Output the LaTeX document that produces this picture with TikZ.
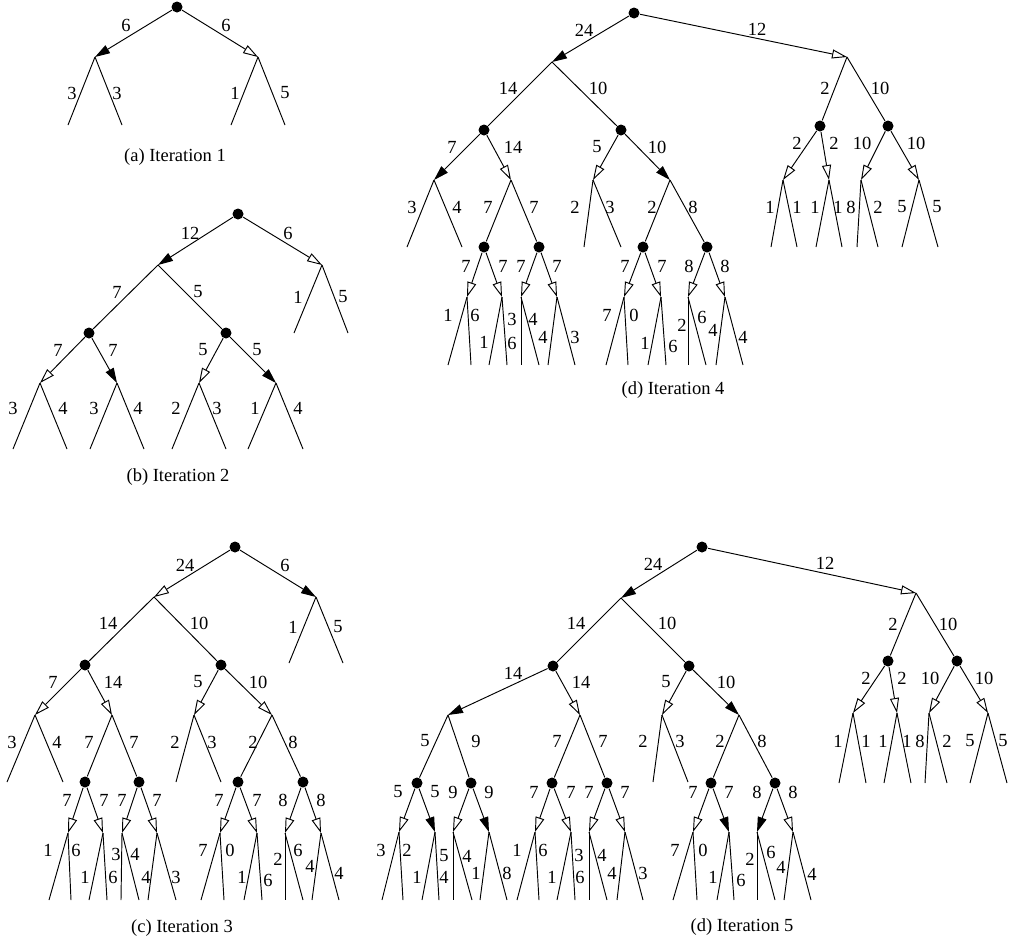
\documentclass[tikz,border=0pt]{standalone}
\usepackage{fontspec}
\setmainfont{Liberation Serif}
\usetikzlibrary{arrows.meta}
\tikzset{
  dot/.style={circle, fill=black, inner sep=0pt, minimum size=11pt},
  fa/.style={-{Triangle[length=15pt,width=9pt]}},
  oa/.style={-{Triangle[open,length=15pt,width=9pt]}},
  pl/.style={},
  lbl/.style={font=\fontsize{18.5}{20}\selectfont, inner sep=0pt},
  captext/.style={font=\fontsize{18.5}{20}\selectfont, inner sep=0pt},
}
\newcommand{\kids}[1]{\foreach \p/\c/\x/\y/\s in {#1} {\coordinate (\c) at (\x,\y); \draw[\s] (\p) -- (\c);}}
\newcommand{\dotkids}[1]{\foreach \p/\c/\x/\y/\s in {#1} {\node[dot] (\c) at (\x,\y) {}; \draw[\s] (\p) -- (\c);}}
\newcommand{\leaves}[1]{\foreach \p/\xa/\xb/\yy in {#1} {\coordinate (\p-L) at (\xa,\yy); \coordinate (\p-R) at (\xb,\yy); \draw (\p) -- (\p-L); \draw (\p) -- (\p-R);}}
\newcommand{\labels}[2]{\foreach \t/\x/\y [count=\i] in {#2} {\node[lbl] (#1\i) at (\x,\y) {\t};}}
\begin{document}
\begin{tikzpicture}[x=1pt, y=-1pt, line width=0.95pt]
\path[use as bounding box] (0,0) rectangle (1009,943);

% ---------- (a) Iteration 1
\node[dot] (a0) at (177,7) {};
\kids{a0/a1/95/57/fa, a0/a2/258/57/oa}
\leaves{a1/68/122/125, a2/231/285/125}
\labels{la}{6/126/25, 6/226/25, 3/72/93, 3/117/93, 1/235/93, 5/285/93}
\node[captext] (capA) at (175,157) {(a) Iteration 1};

% ---------- (b) Iteration 2
\node[dot] (b0) at (238,214) {};
\kids{b0/b1/158/265/fa, b0/b2/322/265/oa}
\dotkids{b1/b11/89/333/pl, b1/b12/226/333/pl}
\kids{b11/b111/40/383/oa, b11/b112/117/383/fa, b12/b121/199/383/oa, b12/b122/276/383/fa}
\leaves{b2/294/348/333, b111/13/67/449, b112/90/144/449, b121/172/226/449, b122/248/303/449}
\labels{lb}{12/190/233, 6/288/233, 7/117/292, 5/198/292, 1/298/297, 5/343/297, 7/58/350, 7/113/350, 5/203/350, 5/257/350, 3/13/408, 4/63/408, 3/94/408, 4/138/408, 2/176/408, 3/217/408, 1/255/408, 4/298/408}
\node[captext] (capB) at (178,477) {(b) Iteration 2};

% ---------- (c) Iteration 3
\node[dot] (c0) at (235,547) {};
\kids{c0/c1/154/597/oa, c0/c2/316/597/fa}
\dotkids{c1/c11/85/665/pl, c1/c12/221/665/pl}
\kids{c11/c111/35/715/oa, c11/c112/112/715/oa, c12/c121/194/715/oa, c12/c122/272/715/oa}
\dotkids{c112/c1121/85/782/pl, c112/c1122/139/782/pl, c122/c1221/238/782/pl, c122/c1222/303/782/pl}
\kids{c1121/c11211/68/833/oa, c1121/c11212/103/833/oa, c1122/c11221/122/833/oa, c1122/c11222/157/833/oa, c1221/c12211/220/833/oa, c1221/c12212/257/833/oa, c1222/c12221/285/833/oa, c1222/c12222/321/833/oa}
\leaves{c2/289/343/663, c111/7/63/782, c121/176/221/782, c11211/49/71/900, c11212/89/107/900, c11221/121/139/900, c11222/148/176/900, c12211/201/224/900, c12212/244/262/900, c12221/285/303/900, c12222/312/339/900}
\labels{lc}{24/185/565, 6/285/565, 1/293/627, 5/338/627, 14/108/623, 10/199/623, 7/53/682, 14/113/682, 5/198/682, 10/258/682, 3/12/742, 4/57/742, 7/89/742, 7/134/742, 2/175/742, 3/212/742, 2/253/742, 8/293/742, 7/67/800, 7/104/800, 7/122/800, 7/157/800, 7/219/800, 7/257/800, 8/283/800, 8/321/800, 1/48/850, 6/76/850, 1/85/877, 6/113/877, 3/116/854, 4/135/854, 4/146/877, 3/176/877, 7/203/850, 0/230/850, 1/242/877, 6/268/880, 2/278/859, 6/298/850, 4/310/866, 4/339/873}
\node[captext] (capC) at (182,928) {(c) Iteration 3};

% ---------- (d) Iteration 4
\node[dot] (d0) at (634,13) {};
\kids{d0/d1/552/62/fa, d0/d2/847/57/oa}
\dotkids{d1/d11/484/130/pl, d1/d12/621/130/pl, d2/d21/820/126/pl, d2/d22/888/126/pl}
\kids{d11/d111/434/180/fa, d11/d112/511/180/oa, d12/d121/593/180/oa, d12/d122/670/180/fa, d21/d211/783/180/oa, d21/d212/829/180/oa, d22/d221/861/180/oa, d22/d222/919/180/oa}
\dotkids{d112/d1121/484/247/pl, d112/d1122/539/247/pl, d122/d1221/643/247/pl, d122/d1222/707/247/pl}
\kids{d1121/d11211/467/297/oa, d1121/d11212/502/297/oa, d1122/d11221/521/297/oa, d1122/d11222/557/297/oa, d1221/d12211/624/297/oa, d1221/d12212/661/297/oa, d1222/d12221/688/297/oa, d1222/d12222/725/297/oa}
\leaves{d111/407/462/247, d121/584/621/247, d211/771/797/247, d212/816/842/247, d221/857/878/247, d222/902/938/247, d11211/448/471/365, d11212/489/507/365, d11221/521/539/365, d11222/548/575/365, d12211/606/628/365, d12212/648/666/365, d12221/688/706/365, d12222/716/743/365}
\labels{ld}{24/584/30, 12/757/29, 14/508/88, 10/598/88, 2/825/88, 10/880/88, 7/452/147, 14/513/147, 5/597/147, 10/657/147, 2/797/143, 2/834/143, 10/862/143, 10/916/143, 3/412/207, 4/457/207, 7/488/207, 7/534/207, 2/575/207, 3/610/207, 2/652/207, 8/693/207, 1/770/207, 1/797/207, 1/815/207, 1/838/207, 8/851/207, 2/878/207, 5/902/207, 5/937/207, 7/466/266, 7/503/266, 7/521/266, 7/557/266, 7/625/266, 7/662/266, 8/689/266, 8/725/266, 1/448/315, 6/475/315, 1/484/342, 6/512/343, 3/512/319, 4/533/319, 4/543/337, 3/575/337, 7/607/315, 0/634/315, 1/645/343, 6/673/346, 2/682/325, 6/702/317, 4/713/330, 4/743/337}
\node[captext] (capD) at (673,390) {(d) Iteration 4};

% ---------- (d) Iteration 5
\node[dot] (e0) at (702,547) {};
\kids{e0/e1/621/598/fa, e0/e2/916/593/oa}
\dotkids{e1/e11/553/666/pl, e1/e12/689/666/pl, e2/e21/888/661/pl, e2/e22/957/661/pl}
\kids{e11/e111/448/715/fa, e11/e112/580/715/oa, e12/e121/662/715/oa, e12/e122/739/715/fa, e21/e211/853/713/oa, e21/e212/897/713/oa, e22/e221/929/713/oa, e22/e222/988/713/oa}
\dotkids{e111/e1111/417/783/pl, e111/e1112/471/783/pl, e112/e1121/552/783/pl, e112/e1122/607/783/pl, e122/e1221/711/783/pl, e122/e1222/775/783/pl}
\kids{e1111/e11111/399/832/oa, e1111/e11112/435/832/fa, e1112/e11121/453/832/oa, e1112/e11122/489/832/fa, e1121/e11211/535/832/oa, e1121/e11212/571/832/oa, e1122/e11221/589/832/oa, e1122/e11222/625/832/oa, e1221/e12211/693/832/oa, e1221/e12212/729/832/fa, e1222/e12221/757/832/fa, e1222/e12222/793/832/oa}
\leaves{e121/653/688/782, e211/839/866/783, e212/884/911/783, e221/925/947/783, e222/970/1007/783, e11111/382/403/900, e11112/422/439/900, e11121/453/472/900, e11122/480/507/900, e11211/517/539/900, e11212/557/575/900, e11221/589/607/900, e11222/617/643/900, e12211/673/697/900, e12212/717/734/900, e12221/757/775/900, e12222/784/811/900}
\labels{le}{24/653/564, 12/825/563, 14/576/623, 10/667/623, 2/893/624, 10/948/624, 14/513/673, 14/581/682, 5/666/682, 10/726/682, 2/866/678, 2/902/678, 10/930/678, 10/984/678, 5/425/741, 9/476/741, 7/557/741, 7/603/741, 2/643/741, 3/680/741, 2/720/741, 8/762/741, 1/838/741, 1/866/741, 1/883/741, 1/907/741, 8/920/741, 2/947/741, 5/970/741, 5/1003/741, 5/398/792, 5/435/792, 9/453/792, 9/489/792, 7/534/792, 7/571/792, 7/589/792, 7/625/792, 7/693/792, 7/729/792, 8/757/792, 8/793/792, 3/381/850, 2/407/850, 1/417/877, 4/444/877, 5/444/856, 4/467/856, 1/476/873, 8/507/873, 1/517/850, 6/543/850, 1/552/877, 6/580/877, 3/579/855, 4/602/855, 4/612/873, 3/643/873, 7/675/850, 0/703/850, 1/713/877, 6/741/880, 2/750/859, 6/771/852, 4/781/867, 4/812/874}
\node[captext] (capE) at (742,927) {(d) Iteration 5};
\end{tikzpicture}
\end{document}
